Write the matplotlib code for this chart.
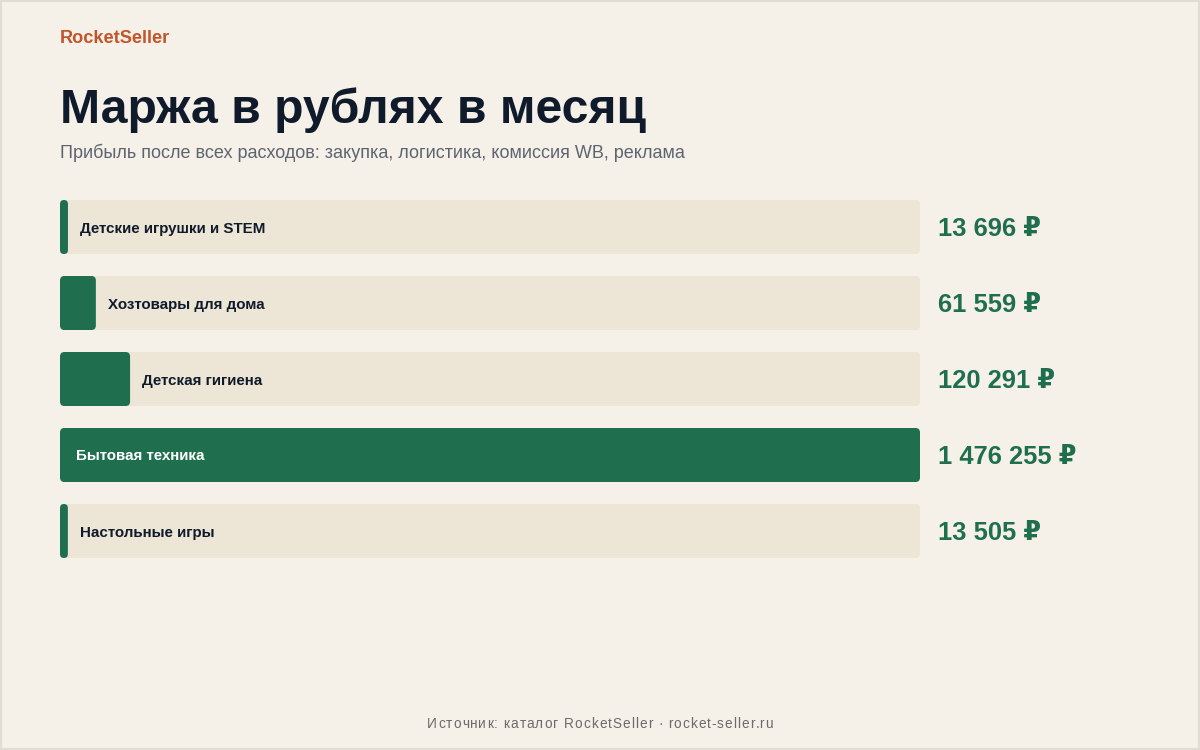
import matplotlib
matplotlib.use("Agg")
import matplotlib.pyplot as plt
from matplotlib.patches import FancyBboxPatch, Rectangle
from matplotlib.font_manager import FontProperties

plt.rcParams['font.family'] = ['Liberation Sans', 'DejaVu Sans']

categories = ["Детские игрушки и STEM", "Хозтовары для дома", "Детская гигиена",
              "Бытовая техника", "Настольные игры"]
values = [13696, 61559, 120291, 1476255, 13505]
value_labels = ["13 696 ₽", "61 559 ₽", "120 291 ₽", "1 476 255 ₽", "13 505 ₽"]

title = "Маржа в рублях в месяц"
subtitle = "Прибыль после всех расходов: закупка, логистика, комиссия WB, реклама"
brand = "RocketSeller"
footer = "Источник: каталог RocketSeller · rocket-seller.ru"

BG = "#f5f0e8"
TRACK = "#ede5d5"
GREEN = "#1f6f4f"
DARK = "#0f1b2b"
GRAY = "#5d6470"
BRAND = "#c2552b"

W, H = 1200, 750
fig = plt.figure(figsize=(W / 100, H / 100), dpi=100, facecolor=BG)

def fx(x):
    return x / W

def fy(y):
    return 1 - y / H

# border
fig.patches.append(Rectangle((0, 0), 1, 1, transform=fig.transFigure, fill=False,
                             edgecolor="#e2ddd4", linewidth=3))

fig.text(fx(60), fy(43), brand, color=BRAND, fontsize=13.1, fontweight='bold', va='baseline')
fig.text(fx(60), fy(123), title, color=DARK, fontsize=34.7, fontweight='bold', va='baseline')
fig.text(fx(60), fy(158), subtitle, color=GRAY, fontsize=13, va='baseline')

# footer with letter spacing
renderer = fig.canvas.get_renderer()
fprop = FontProperties(family=['Liberation Sans', 'DejaVu Sans'], size=9.8)

def tw(s):
    w, _, _ = renderer.get_text_width_height_descent(s + "|", fprop, ismath=False)
    w0, _, _ = renderer.get_text_width_height_descent("|", fprop, ismath=False)
    return w - w0

spacing = 1.0
total = tw(footer) + spacing * (len(footer) - 1)
x0 = 600 - total / 2
for k, ch in enumerate(footer):
    if ch == " ":
        continue
    x = x0 + tw(footer[:k]) + spacing * k
    fig.text(fx(x), fy(728), ch, color="#6b6b6b", fontproperties=fprop,
             ha='left', va='baseline')

# axes: tracks span x 60..920, rows 200..558
ax = fig.add_axes([fx(60), fy(558), fx(860), (558 - 200) / H])
ax.set_facecolor("none")
n = len(values)
half = 54 / 76 / 2
vmax = max(values)
ax.set_xlim(0, vmax)
ax.set_ylim(n - 1 + half, -half)
ax.axis('off')

px_x = vmax / 860.0
px_y = (n - 1 + 2 * half) / 358.0
r = 4.5

for i, (v, cat, lab) in enumerate(zip(values, categories, value_labels)):
    y0 = i - half
    track = FancyBboxPatch((0, y0), vmax, 2 * half,
                           boxstyle=f"round,pad=0,rounding_size={r * px_x}",
                           mutation_aspect=px_y / px_x, facecolor=TRACK,
                           edgecolor='none', clip_on=False)
    ax.add_patch(track)
    bar = FancyBboxPatch((0, y0), v, 2 * half,
                         boxstyle=f"round,pad=0,rounding_size={min(r * px_x, v / 2)}",
                         mutation_aspect=px_y / px_x, facecolor=GREEN,
                         edgecolor='none', clip_on=False)
    ax.add_patch(bar)
    if v / vmax > 0.3:
        ax.annotate(cat, xy=(0, i), xytext=(16 * 0.72, 0), textcoords='offset points',
                    color='white', fontsize=10.9, fontweight='bold', va='center_baseline')
    else:
        ax.annotate(cat, xy=(v, i), xytext=(12 * 0.72, 0), textcoords='offset points',
                    color=DARK, fontsize=10.9, fontweight='bold', va='center_baseline')
    ax.annotate(lab, xy=(vmax, i), xytext=(18 * 0.72, 0), textcoords='offset points',
                color=GREEN, fontsize=18.4, fontweight='bold', va='center_baseline',
                annotation_clip=False)

fig.savefig("out.png", dpi=100, facecolor=BG)
